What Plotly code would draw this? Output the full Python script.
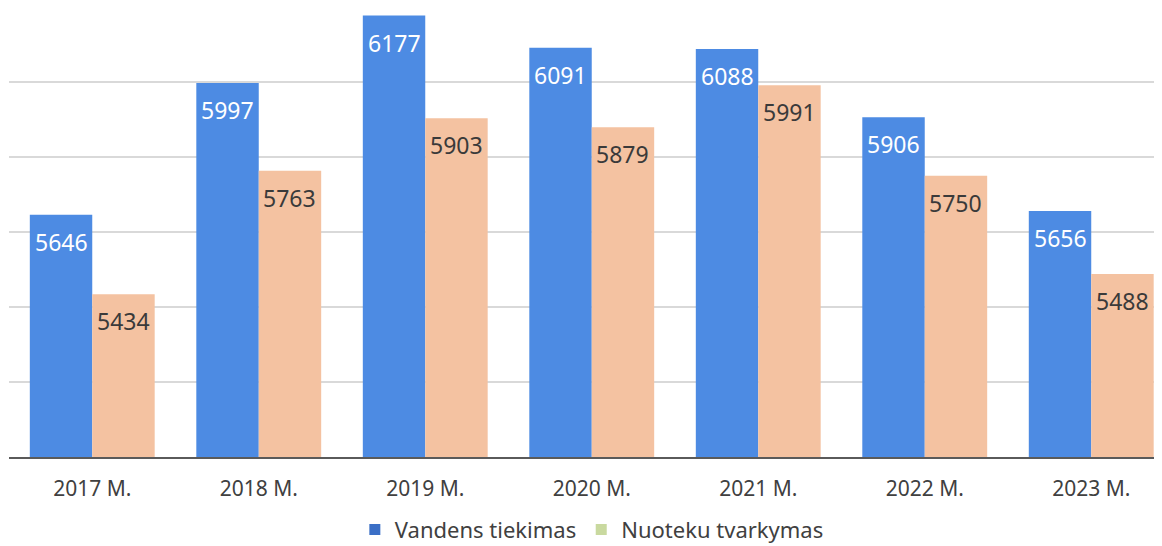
import plotly.graph_objects as go

years = ["2017 M.", "2018 M.", "2019 M.", "2020 M.", "2021 M.", "2022 M.", "2023 M."]
vandens = [5646, 5997, 6177, 6091, 6088, 5906, 5656]
nuoteku = [5434, 5763, 5903, 5879, 5991, 5750, 5488]
series_names = ["Vandens tiekimas", "Nuoteku tvarkymas"]

BLUE = "#4d8be3"
PEACH = "#f4c2a1"
LEG_BLUE = "#3b6fc6"
LEG_GREEN = "#c9d99f"
BARGAP = 0.25
half = (1 - BARGAP) / 4  # centre offset of each bar within a group

fig = go.Figure()
fig.add_trace(go.Bar(x=years, y=vandens, name=series_names[0], marker=dict(color=BLUE, line=dict(width=0)),
                     showlegend=False, hoverinfo="y"))
fig.add_trace(go.Bar(x=years, y=nuoteku, name=series_names[1], marker=dict(color=PEACH, line=dict(width=0)),
                     showlegend=False, hoverinfo="y"))
# legend-only entries (legend swatches differ from bar colours in the original)
for nm, col in zip(series_names, [LEG_BLUE, LEG_GREEN]):
    fig.add_trace(go.Scatter(x=[None], y=[None], name=nm, mode="markers",
                             marker=dict(symbol="square", size=11, color=col)))

annotations = []
for i, (v, n) in enumerate(zip(vandens, nuoteku)):
    annotations.append(dict(x=i - half, y=v, xref="x", yref="y", text=str(v), showarrow=False,
                            yshift=-27, font=dict(family="Noto Sans", size=23, color="white")))
    annotations.append(dict(x=i + half, y=n, xref="x", yref="y", text=str(n), showarrow=False,
                            yshift=-27, font=dict(family="Noto Sans", size=23, color="#3a3a3a")))

fig.update_layout(
    width=1154, height=538,
    margin=dict(l=1, r=0, t=0, b=89, autoexpand=False),
    paper_bgcolor="white", plot_bgcolor="white",
    barmode="group", bargap=BARGAP, bargroupgap=0,
    annotations=annotations,
    xaxis=dict(range=[-0.5, 6.425], showline=True, linecolor="#5a5a5a", linewidth=2,
               ticks="", ticklabelstandoff=12, automargin=False,
               tickfont=dict(family="Noto Sans", size=21, color="#404040"),
               showgrid=False),
    yaxis=dict(range=[5000, 6197.3], tickvals=[5200, 5400, 5600, 5800, 6000],
               showticklabels=False, showgrid=True, gridcolor="#d9d9d9", gridwidth=1.5,
               zeroline=False, automargin=False),
    legend=dict(orientation="h", x=0.5055, xanchor="center", y=-0.162, yanchor="middle",
                font=dict(family="Noto Sans", size=22, color="#404040"), traceorder="normal",
                itemwidth=30, tracegroupgap=0),
    showlegend=True,
)

fig.write_html("out.html")
